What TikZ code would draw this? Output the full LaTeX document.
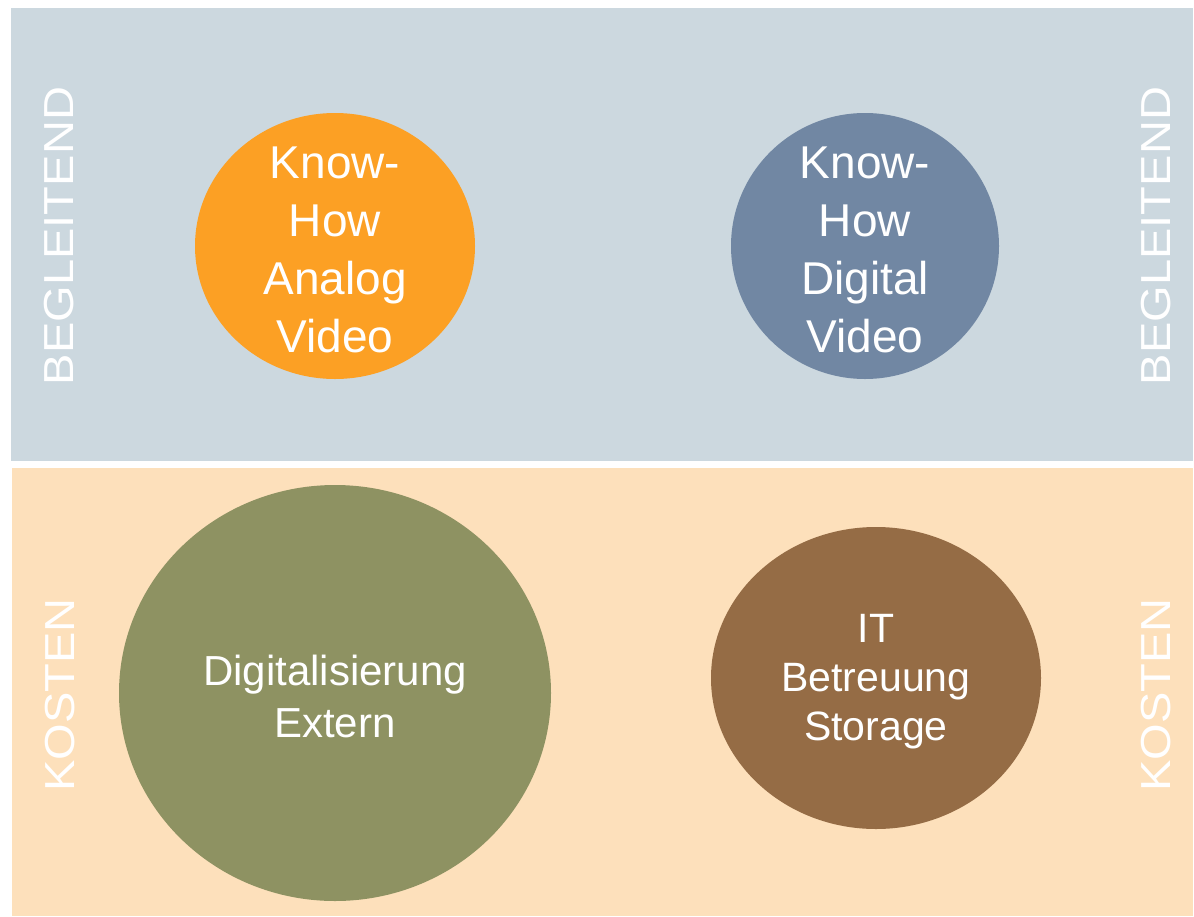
\documentclass[tikz,border=0pt]{standalone}
\usepackage{fontspec}
\setmainfont{Liberation Sans}
\definecolor{topbg}{RGB}{204,216,223}
\definecolor{botbg}{RGB}{253,224,187}
\definecolor{corange}{RGB}{252,160,36}
\definecolor{cblue}{RGB}{113,135,163}
\definecolor{cgreen}{RGB}{142,146,98}
\definecolor{cbrown}{RGB}{149,108,69}
\begin{document}
\begin{tikzpicture}[x=1pt,y=-1pt,
  big/.style={text=white, align=center, font=\fontsize{46}{58}\selectfont},
  midg/.style={text=white, align=center, font=\fontsize{42}{52}\selectfont},
  midb/.style={text=white, align=center, font=\fontsize{41}{49}\selectfont},
  side/.style={text=white, rotate=90, inner sep=0pt, font=\fontsize{42}{50}\selectfont}]
\useasboundingbox (0,0) rectangle (1194,916);
\fill[white] (0,0) rectangle (1194,916);
\fill[topbg] (11,8) rectangle (1193,461);
\fill[botbg] (12,468) rectangle (1193,916);
% circles
\fill[corange] (335,246) ellipse [x radius=140, y radius=133];
\fill[cblue] (865,246) ellipse [x radius=134, y radius=133];
\fill[cgreen] (335,693) ellipse [x radius=216, y radius=208];
\fill[cbrown] (876,678) ellipse [x radius=165, y radius=151];
% texts
\node[big] (ka) at (335,250) {Know-\\How\\Analog\\Video};
\node[big] (kd) at (865,250) {Know-\\How\\Digital\\Video};
\node[midg] (de) at (335,696) {Digitalisierung\\Extern};
\node[midb] (it) at (876,682) {IT\\Betreuung\\Storage};
\node[side] (bl) at (59,236) {\scalebox{1.12}[1]{BEGLEITEND}};
\node[side] (br) at (1156,236) {\scalebox{1.12}[1]{BEGLEITEND}};
\node[side] (kl) at (60,695) {\scalebox{1.12}[1]{KOSTEN}};
\node[side] (kr) at (1156,695) {\scalebox{1.12}[1]{KOSTEN}};
\end{tikzpicture}
\end{document}
